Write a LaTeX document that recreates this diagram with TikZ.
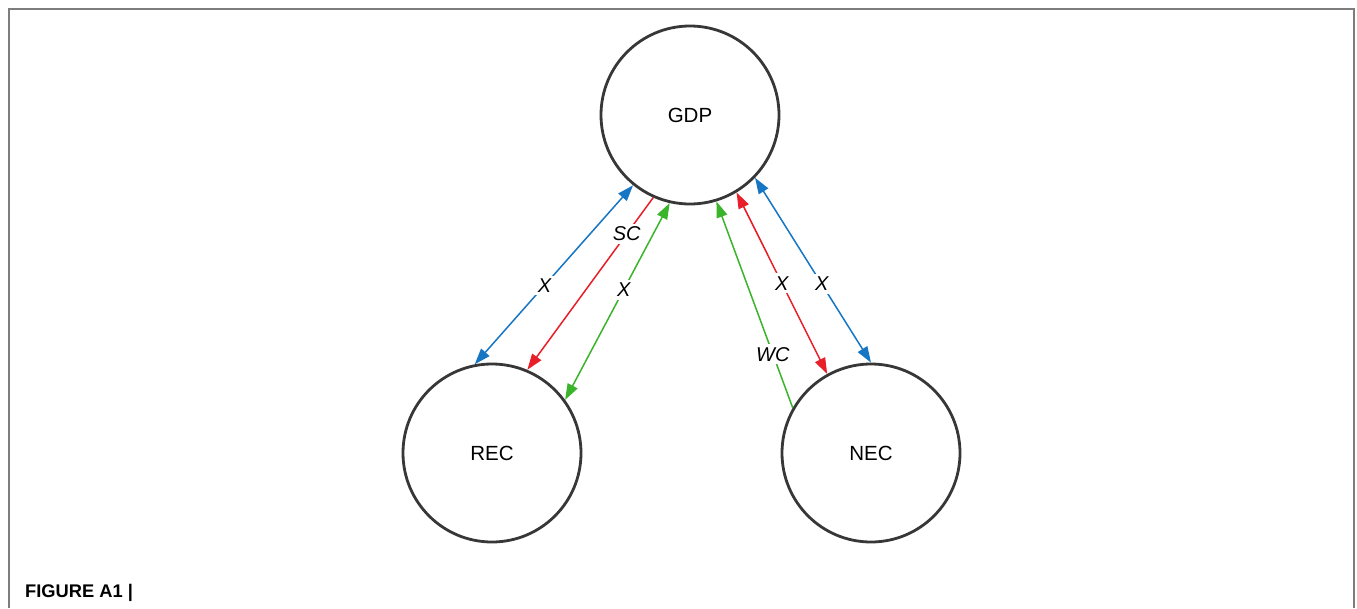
\documentclass[tikz,border=0pt]{standalone}
\usepackage{fontspec}
\setmainfont{Liberation Sans}
\usetikzlibrary{arrows.meta}
\definecolor{cblue}{RGB}{22,118,196}
\definecolor{cred}{RGB}{232,30,40}
\definecolor{cgreen}{RGB}{58,180,42}
\definecolor{cframe}{RGB}{125,125,125}
\definecolor{ccircle}{RGB}{55,55,55}
\tikzset{
  var/.style={circle, draw=ccircle, line width=2.8pt, minimum size=178pt, inner sep=0pt, font=\fontsize{20.5}{24}\selectfont},
  link/.style={line width=1.5pt, -{Triangle[length=16pt,width=11pt]}},
  both/.style={line width=1.5pt, {Triangle[length=16pt,width=11pt]}-{Triangle[length=16pt,width=11pt]}},
  lab/.style={fill=white, inner sep=3pt, font=\fontsize{20}{24}\selectfont\itshape}
}
\begin{document}
\begin{tikzpicture}[x=1pt,y=-1pt]
\useasboundingbox (0,0) rectangle (1357,608);
\draw[cframe, line width=1.6pt] (9,608) -- (9,9) -- (1354,9) -- (1354,608);
\node[var] (GDP) at (690,115) {GDP};
\node[var] (REC) at (492,453) {REC};
\node[var] (NEC) at (871,453) {NEC};
% left group
\draw[both, draw=cblue, fill=cblue] (GDP.231) -- node[lab, pos=0.56] (lx1) {X} (REC.101);
\draw[link, draw=cred, fill=cred] (GDP.246) -- node[lab, pos=0.21] (lsc) {SC} (REC.67);
\draw[both, draw=cgreen, fill=cgreen] (GDP.257.5) -- node[lab, pos=0.44] (lx2) {X} (REC.36);
% right group
\draw[link, draw=cgreen, fill=cgreen] (NEC.150.5) -- node[lab, pos=0.26] (lwc) {WC} (GDP.287);
\draw[both, draw=cred, fill=cred] (GDP.301) -- node[lab, pos=0.5] (lx3) {X} (NEC.119);
\draw[both, draw=cblue, fill=cblue] (GDP.316) -- node[lab, pos=0.575] (lx4) {X} (NEC.90.6);
\node[anchor=base west, inner sep=0pt, font=\fontsize{18.3}{20}\selectfont\bfseries] (cap) at (25,597) {FIGURE A1 |};
\end{tikzpicture}
\end{document}
